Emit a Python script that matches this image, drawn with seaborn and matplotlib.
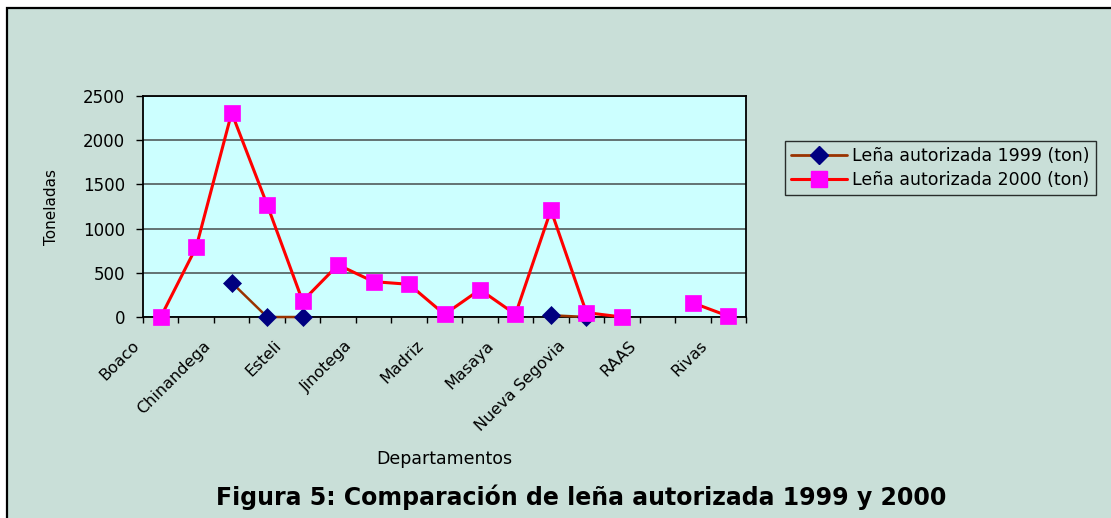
import numpy as np
import pandas as pd
import matplotlib.pyplot as plt
import seaborn as sns
from matplotlib.lines import Line2D
from matplotlib.patches import Rectangle
from matplotlib.transforms import ScaledTranslation

# datos (toneladas)
departamentos = ['Boaco', 'Carazo', 'Chinandega', 'Chontales', 'Esteli', 'Granada',
                 'Jinotega', 'Leon', 'Madriz', 'Managua', 'Masaya', 'Matagalpa',
                 'Nueva Segovia', 'RAAN', 'RAAS', 'Rio San Juan', 'Rivas']
lena_1999 = [np.nan, np.nan, 390, 0, 0, np.nan, np.nan, np.nan, np.nan, np.nan,
             np.nan, 20, 0, np.nan, np.nan, np.nan, np.nan]
lena_2000 = [0, 790, 2310, 1270, 180, 590, 400, 370, 30, 310, 30, 1210, 50, 0,
             np.nan, 160, 10]
serie_1999 = 'Leña autorizada 1999 (ton)'
serie_2000 = 'Leña autorizada 2000 (ton)'
yticks = [0, 500, 1000, 1500, 2000, 2500]

fondo = '#C9DFD8'


def tramos(valores):
    # corta la linea donde falta el dato
    df = pd.DataFrame({'pos': np.arange(len(valores)), 'ton': valores})
    df['tramo'] = df['ton'].isna().cumsum()
    return df.dropna()


sns.set_style('ticks')
plt.rcParams['font.family'] = ['DejaVu Sans']
plt.rcParams['text.color'] = 'black'
plt.rcParams['axes.labelcolor'] = 'black'
plt.rcParams['xtick.color'] = 'black'
plt.rcParams['ytick.color'] = 'black'

fig, ax = plt.subplots(figsize=(11.11, 5.18), dpi=100)
fig.patch.set_facecolor('white')
fig.add_artist(Rectangle((7 / 1111, -0.05), 1.1, 1.05 - 8 / 518, transform=fig.transFigure,
                         facecolor=fondo, edgecolor='black', lw=1.6, zorder=-5))
fig.subplots_adjust(left=0.1287, right=0.6715, bottom=0.388, top=0.8147)
ax.set_facecolor('#CCFFFF')

sns.lineplot(data=tramos(lena_1999), x='pos', y='ton', units='tramo', estimator=None,
             color='#993300', lw=1.8, marker='D', ms=9, mfc='#000080', mec='#000080',
             mew=0.5, ax=ax, legend=False, zorder=3, clip_on=False)
sns.lineplot(data=tramos(lena_2000), x='pos', y='ton', units='tramo', estimator=None,
             color='#FF0000', lw=2.2, marker='s', ms=11.5, mfc='#FF00FF', mec='#FF00FF',
             mew=0.5, ax=ax, legend=False, zorder=4, clip_on=False)

ax.set_xlim(-0.5, len(departamentos) - 0.5)
ax.set_ylim(0, 2500)
ax.set_yticks(yticks)
ax.set_yticklabels([str(v) for v in yticks], fontsize=12)
ax.yaxis.grid(True, color='#5A6868', lw=1.3)
ax.set_axisbelow(True)
for s in ax.spines.values():
    s.set_color('black')
    s.set_linewidth(1.3)
ax.tick_params(axis='y', length=5, width=1, color='black', pad=8)

# marcas entre categorias, etiquetas cada dos
ax.set_xticks(np.arange(len(departamentos) + 1) - 0.5, minor=True)
pos_etq = list(range(0, len(departamentos), 2))
ax.set_xticks(pos_etq)
ax.set_xticklabels([departamentos[i] for i in pos_etq], fontsize=11.5)
ax.tick_params(axis='x', which='minor', length=4, width=1, color='black')
ax.tick_params(axis='x', which='major', length=0, pad=15)
desplaza = ScaledTranslation(-29 / 100, 0, fig.dpi_scale_trans)
for lab in ax.get_xticklabels():
    lab.set_rotation(45)
    lab.set_ha('right')
    lab.set_va('top')
    lab.set_rotation_mode('anchor')
    lab.set_transform(lab.get_transform() + desplaza)

ax.set_xlabel('Departamentos', fontsize=12.5)
ax.xaxis.set_label_coords(0.5, -0.60)
ax.set_ylabel('Toneladas', fontsize=11)
ax.yaxis.set_label_coords(-0.14, 0.5)

manejadores = [
    Line2D([], [], color='#993300', lw=2, marker='D', ms=9, mfc='#000080', mec='#000080'),
    Line2D([], [], color='#FF0000', lw=2.2, marker='s', ms=11.5, mfc='#FF00FF', mec='#FF00FF'),
]
leg = fig.legend(manejadores, [serie_1999, serie_2000], loc='center',
                 bbox_to_anchor=(940.5 / 1111, 1 - 168 / 518), fontsize=12.5,
                 frameon=True, fancybox=False, facecolor=fondo, edgecolor='black',
                 handlelength=3.2, handletextpad=0.3, borderpad=0.35, labelspacing=0.35)
leg.get_frame().set_linewidth(1)

fig.text(0.523, 1 - 497 / 518, 'Figura 5: Comparación de leña autorizada 1999 y 2000',
         ha='center', va='center', fontsize=17, fontweight='bold')

plt.savefig('out.png', dpi=100, facecolor=fig.get_facecolor())
